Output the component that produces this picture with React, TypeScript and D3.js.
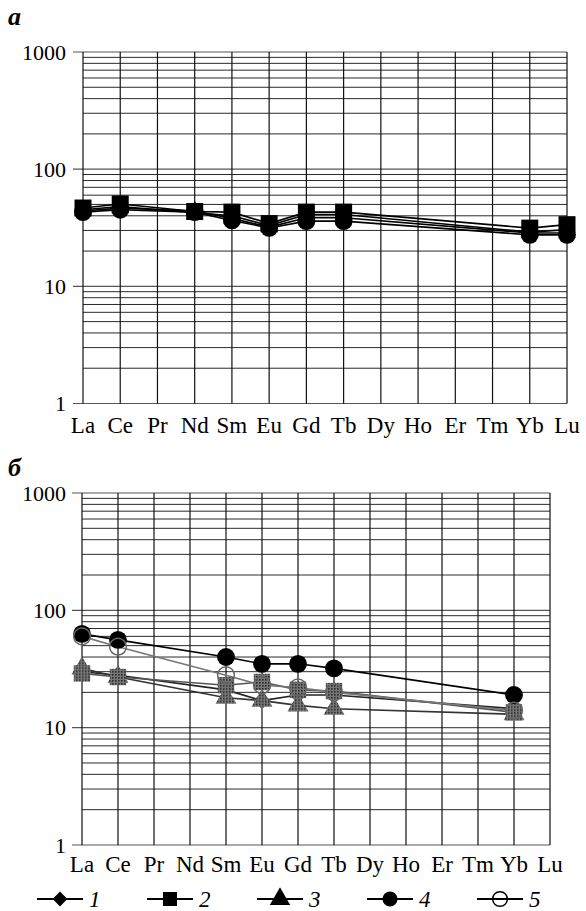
import React from 'react';
import * as d3 from 'd3';

const elements = ["La", "Ce", "Pr", "Nd", "Sm", "Eu", "Gd", "Tb", "Dy", "Ho", "Er", "Tm", "Yb", "Lu"];
const yTicks = [1, 10, 100, 1000];
const legendLabels = ["1", "2", "3", "4", "5"];

// panel а (La..Lu, null = not measured)
const a1 = [45, 48, null, 42.5, 40, 33, 41, 41, null, null, null, null, 29, 30.5];
const a2 = [46.6, 50.5, null, 43.5, 43, 34.3, 43, 43, null, null, null, null, 31.4, 33.6];
const a3 = [44, 46.5, null, 44, 38, 32, 38.5, 38.5, null, null, null, null, 28.5, 28.5];
const a4 = [43, 45, null, 43, 36.5, 31.5, 36, 36, null, null, null, null, 27.5, 27.5];

// panel б
const b1 = [30, 28, null, null, 21, 17, 19, 19, null, null, null, null, 14.5, null];
const b2 = [29, 27, null, null, 23, 24.5, 21, 20.5, null, null, null, null, 13.5, null];
const b3 = [32, 27, null, null, 18, 17, 15.5, 14.5, null, null, null, null, 13, null];
const b4 = [63, 56, null, null, 40, 35, 35, 32, null, null, null, null, 19, null];
const b5 = [60, 49, null, null, 28, 23, 22, 20, null, null, null, null, 14, null];

const serif = "'Liberation Serif', 'DejaVu Serif', serif";

type Series = { key: string; values: (number | null)[]; symbol: d3.SymbolType; size: number; rotate?: number; fill: string; stroke: string; line: string };

function Panel({ top, bottom, left, right, title, titleY, series, labelY }: {
  top: number; bottom: number; left: number; right: number; title: string; titleY: number; series: Series[]; labelY: number;
}) {
  const x = d3.scalePoint<string>().domain(elements).range([left, right]);
  const y = d3.scaleLog().domain([1, 1000]).range([bottom, top]);

  const minor: number[] = [];
  [1, 10, 100].forEach(d => { for (let k = 2; k <= 9; k++) minor.push(d * k); });

  const line = d3.line<[string, number]>().x(d => x(d[0])!).y(d => y(d[1]));

  return (
    <g>
      <text x={8} y={titleY} fontFamily={serif} fontWeight="bold" fontStyle="italic" fontSize={26}>{title}</text>
      {minor.map(v => (
        <line key={"m" + v} x1={left} x2={right} y1={y(v)} y2={y(v)} stroke="#2a2a2a" strokeWidth={1} />
      ))}
      {yTicks.map(v => (
        <g key={"t" + v}>
          <line x1={left - 10} x2={right} y1={y(v)} y2={y(v)} stroke="#555" strokeWidth={1.2} />
          <text x={66} y={y(v)} dy="0.35em" textAnchor="end" fontFamily={serif} fontSize={22}>{v}</text>
        </g>
      ))}
      {elements.map(e => (
        <g key={e}>
          <line x1={x(e)} x2={x(e)} y1={top} y2={bottom} stroke="#111" strokeWidth={1.2} />
          <text x={x(e)} y={labelY} textAnchor="middle" fontFamily={serif} fontSize={23}>{e}</text>
        </g>
      ))}
      {series.map(s => {
        const pts = elements.map((e, i) => [e, s.values[i]] as [string, number | null])
          .filter(p => p[1] != null) as [string, number][];
        return <path key={"l" + s.key} d={line(pts)!} fill="none" stroke={s.line} strokeWidth={1.6} />;
      })}
      {series.map(s => {
        const pts = elements.map((e, i) => [e, s.values[i]] as [string, number | null])
          .filter(p => p[1] != null) as [string, number][];
        const sym = d3.symbol().type(s.symbol).size(s.size)();
        return (
          <g key={"p" + s.key}>
            {pts.map(p => (
              <path key={p[0]} d={sym!} transform={`translate(${x(p[0])},${y(p[1])}) rotate(${s.rotate || 0})`}
                fill={s.fill} stroke={s.stroke} strokeWidth={1.5} />
            ))}
          </g>
        );
      })}
    </g>
  );
}

export default function App() {
  const gray = "url(#halftone)";
  const seriesA: Series[] = [
    { key: "1", values: a1, symbol: d3.symbolSquare, size: 110, rotate: 45, fill: "#000", stroke: "none", line: "#000" },
    { key: "3", values: a3, symbol: d3.symbolTriangle, size: 130, fill: "#000", stroke: "none", line: "#000" },
    { key: "2", values: a2, symbol: d3.symbolSquare, size: 289, fill: "#000", stroke: "none", line: "#000" },
    { key: "4", values: a4, symbol: d3.symbolCircle, size: 250, fill: "#000", stroke: "none", line: "#000" },
  ];
  const seriesB: Series[] = [
    { key: "1", values: b1, symbol: d3.symbolSquare, size: 150, rotate: 45, fill: gray, stroke: "none", line: "#222" },
    { key: "3", values: b3, symbol: d3.symbolTriangle, size: 190, fill: gray, stroke: "none", line: "#333" },
    { key: "2", values: b2, symbol: d3.symbolSquare, size: 270, fill: gray, stroke: "none", line: "#555" },
    { key: "4", values: b4, symbol: d3.symbolCircle, size: 250, fill: "#000", stroke: "none", line: "#000" },
    { key: "5", values: b5, symbol: d3.symbolCircle, size: 220, fill: "none", stroke: "#666", line: "#777" },
  ];

  const lx = d3.scalePoint<string>().domain(legendLabels).range([60, 500]);
  const legendSymbols = [d3.symbolSquare, d3.symbolSquare, d3.symbolTriangle, d3.symbolCircle, d3.symbolCircle];
  const legendSizes = [110, 196, 180, 180, 170];
  const legendY = 899;

  return (
    <svg width={586} height={911} style={{ position: "absolute", left: 0, top: 0, background: "#fff" }}>
      <defs>
        <pattern id="halftone" width={3} height={3} patternUnits="userSpaceOnUse">
          <rect width={3} height={3} fill="#777" />
          <rect width={1.6} height={1.6} fill="#2a2a2a" />
        </pattern>
      </defs>
      <rect width={586} height={911} fill="#fff" />
      <Panel top={52} bottom={403.5} left={83} right={567} title="а" titleY={25} series={seriesA} labelY={433} />
      <Panel top={493} bottom={845} left={82} right={550} title="б" titleY={476} series={seriesB} labelY={872} />
      {legendLabels.map((k, i) => {
        const cx = lx(k)!;
        const sym = d3.symbol().type(legendSymbols[i]).size(legendSizes[i])();
        return (
          <g key={k}>
            <line x1={cx - 23} x2={cx + 23} y1={legendY} y2={legendY} stroke="#000" strokeWidth={2} />
            <path d={sym!} transform={`translate(${cx},${legendY}) rotate(${i === 0 ? 45 : 0})`}
              fill={i === 4 ? "none" : "#000"} stroke="#000" strokeWidth={i === 4 ? 1.5 : 0} />
            <text x={cx + 29} y={legendY} dy="0.35em" fontFamily={serif} fontStyle="italic" fontSize={23}>{k}</text>
          </g>
        );
      })}
    </svg>
  );
}
